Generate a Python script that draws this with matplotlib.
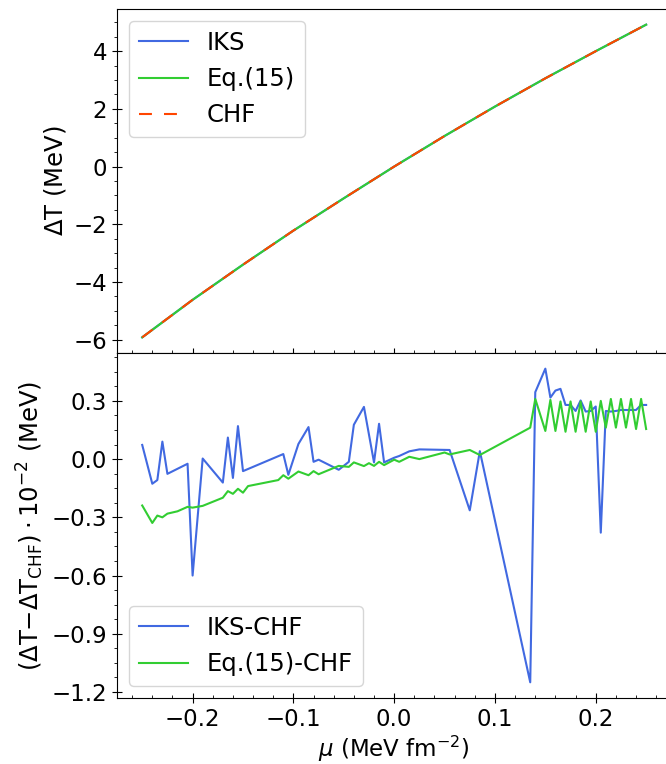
import matplotlib
matplotlib.use("Agg")
import matplotlib.pyplot as plt
from matplotlib.ticker import MultipleLocator, AutoMinorLocator, FuncFormatter

# Delta T (MeV) as a function of mu (MeV fm^-2)
mu_top = [-0.25, -0.20, -0.15, -0.10, -0.05, 0.00, 0.05, 0.10, 0.15, 0.20, 0.25]
dT_chf = [-5.92, -4.62, -3.40, -2.22, -1.10, 0.00, 1.06, 2.08, 3.06, 4.00, 4.92]

# differences to CHF, in units of 1e-2 MeV
mu_iks = [-0.250, -0.240, -0.235, -0.230, -0.225, -0.205, -0.200, -0.190, -0.170,
          -0.165, -0.160, -0.155, -0.150, -0.110, -0.105, -0.095, -0.085, -0.080,
          -0.075, -0.055, -0.045, -0.040, -0.030, -0.020, -0.015, -0.010, 0.000,
          0.005, 0.015, 0.025, 0.055, 0.075, 0.085, 0.135, 0.140, 0.150, 0.155,
          0.160, 0.165, 0.170, 0.175, 0.180, 0.185, 0.190, 0.195, 0.200, 0.205,
          0.210, 0.215, 0.220, 0.225, 0.230, 0.235, 0.240, 0.245, 0.250]
diff_iks = [0.073, -0.127, -0.108, 0.090, -0.076, -0.024, -0.600, 0.003, -0.121,
            0.111, -0.097, 0.170, -0.062, 0.026, -0.081, 0.078, 0.165, -0.014,
            -0.003, -0.055, -0.014, 0.177, 0.269, -0.017, 0.182, -0.017, 0.007,
            0.016, 0.040, 0.050, 0.047, -0.264, 0.041, -1.150, 0.345, 0.466, 0.317,
            0.353, 0.362, 0.279, 0.279, 0.248, 0.302, 0.245, 0.248, 0.271, -0.379,
            0.248, 0.245, 0.248, 0.253, 0.253, 0.253, 0.253, 0.279, 0.279]

mu_eq15 = [-0.250, -0.240, -0.235, -0.230, -0.225, -0.215, -0.205, -0.200, -0.190,
           -0.170, -0.165, -0.160, -0.155, -0.150, -0.145, -0.115, -0.110, -0.105,
           -0.095, -0.085, -0.080, -0.075, -0.055, -0.045, -0.040, -0.030, -0.025,
           -0.020, -0.015, -0.010, 0.000, 0.005, 0.015, 0.025, 0.050, 0.055, 0.075,
           0.085, 0.135, 0.140, 0.150, 0.155, 0.160, 0.165, 0.170, 0.175, 0.180,
           0.185, 0.190, 0.195, 0.200, 0.205, 0.210, 0.215, 0.220, 0.225, 0.230,
           0.235, 0.240, 0.245, 0.250]
diff_eq15 = [-0.239, -0.329, -0.291, -0.300, -0.281, -0.269, -0.246, -0.250, -0.241,
             -0.199, -0.165, -0.179, -0.153, -0.173, -0.139, -0.108, -0.083, -0.101,
             -0.064, -0.083, -0.062, -0.078, -0.035, -0.040, -0.017, -0.036, -0.021,
             -0.035, -0.014, -0.031, -0.003, -0.014, 0.012, 0.000, 0.034, 0.024, 0.047,
             0.021, 0.162, 0.310, 0.145, 0.305, 0.145, 0.297, 0.141, 0.297, 0.141,
             0.297, 0.141, 0.297, 0.141, 0.300, 0.162, 0.310, 0.162, 0.310, 0.162,
             0.310, 0.155, 0.310, 0.155]

FS = 16.5
LFS = 17.5
plt.rcParams['font.size'] = FS
plt.rcParams['mathtext.fontset'] = 'dejavusans'

fig = plt.figure(figsize=(6.66, 7.64), dpi=100)
left, width = 0.1757, 0.8323
ax1 = fig.add_axes([left, 0.5380, width, 0.4502])
ax2 = fig.add_axes([left, 0.0864, width, 0.4516], sharex=ax1)

ax1.plot(mu_top, dT_chf, color='royalblue', lw=1.5, label='IKS')
ax1.plot(mu_top, dT_chf, color='limegreen', lw=1.5, label='Eq.(15)')
ax1.plot(mu_top, dT_chf, color='orangered', lw=1.5, ls=(0, (6.2, 5.8)), label='CHF')
ax1.set_ylabel(r'$\Delta$T (MeV)', fontsize=LFS)
ax1.yaxis.set_major_locator(MultipleLocator(2))
ax1.legend(loc='upper left', fontsize=LFS)
ax1.tick_params(axis='x', labelbottom=False)

ax2.plot(mu_iks, diff_iks, color='royalblue', lw=1.5, label='IKS-CHF')
ax2.plot(mu_eq15, diff_eq15, color='limegreen', lw=1.5, label='Eq.(15)-CHF')
ax2.set_ylabel(r'$(\Delta\mathrm{T}{-}\Delta\mathrm{T}_{\mathrm{CHF}})\cdot10^{-2}$ (MeV)',
               fontsize=LFS)
ax2.set_xlabel(r'$\mu$ (MeV fm$^{-2}$)', labelpad=2)
ax2.yaxis.set_major_locator(MultipleLocator(0.3))
ax2.yaxis.set_major_formatter(FuncFormatter(lambda v, p: f'{v:.1f}'.replace('-', '\u2212')))
ax2.legend(loc='lower left', fontsize=LFS)

ax2.set_xlim(-0.275, 0.275)
ax2.xaxis.set_major_locator(MultipleLocator(0.1))
ax2.xaxis.set_major_formatter(FuncFormatter(lambda v, p: f'{v:.1f}'.replace('-', '\u2212')))

for ax in (ax1, ax2):
    ax.xaxis.set_minor_locator(AutoMinorLocator())
    ax.yaxis.set_minor_locator(AutoMinorLocator())
    ax.tick_params(which='major', direction='inout', length=7.5, labelsize=FS)
    ax.tick_params(axis='x', which='minor', direction='in', length=2.5)
    ax.tick_params(axis='y', which='minor', direction='out', length=2.5)

fig.align_ylabels([ax1, ax2])
fig.savefig('out.png', dpi=100)
